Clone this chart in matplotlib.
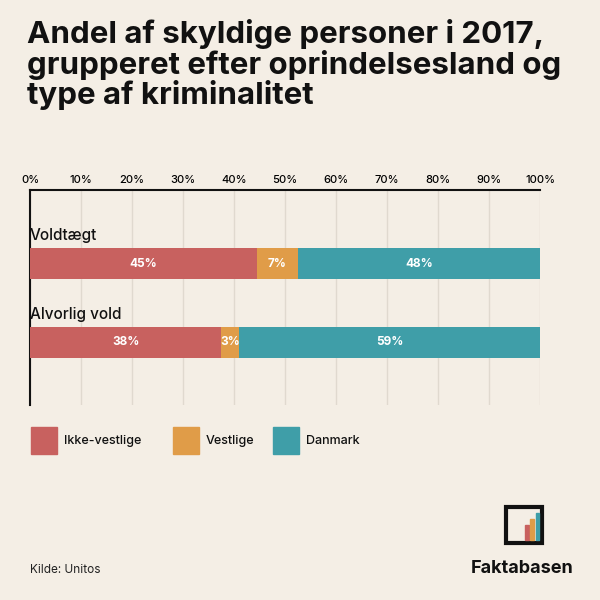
import matplotlib
matplotlib.use("Agg")
import matplotlib.pyplot as plt
from matplotlib.patches import Rectangle

plt.rcParams["font.family"] = "Inter"

categories = ["Voldtægt", "Alvorlig vold"]
series = ["Ikke-vestlige", "Vestlige", "Danmark"]
values = {
    "Ikke-vestlige": [44.5, 37.5],
    "Vestlige": [8, 3.5],
    "Danmark": [47.5, 59],
}
labels = {
    "Ikke-vestlige": ["45%", "38%"],
    "Vestlige": ["7%", "3%"],
    "Danmark": ["48%", "59%"],
}
ticks = [0, 10, 20, 30, 40, 50, 60, 70, 80, 90, 100]
colors = {"Ikke-vestlige": "#c8615f", "Vestlige": "#e09c48", "Danmark": "#3f9ea8"}

bg = "#f4eee5"
fig = plt.figure(figsize=(6, 6), dpi=100, facecolor=bg)
fig.text(0.045, 0.968, "Andel af skyldige personer i 2017,\ngrupperet efter oprindelsesland og\ntype af kriminalitet",
         fontsize=22.5, fontweight="bold", va="top", ha="left", linespacing=1.02, color="#111")

ax = fig.add_axes([0.05, 0.325, 0.85, 0.358])
ax.set_facecolor(bg)
ax.set_xlim(0, 100)
ax.set_ylim(215, 0)
ypos = [73.5, 152]
h = 31
for i, cat in enumerate(categories):
    left = 0
    for s in series:
        v = values[s][i]
        ax.barh(ypos[i], v, left=left, height=h, color=colors[s], zorder=3)
        ax.text(left + v / 2, ypos[i], labels[s][i], ha="center", va="center",
                color="white", fontsize=8.5, fontweight="bold", zorder=4)
        left += v
    ax.text(0, ypos[i] - h / 2 - 5, cat, ha="left", va="bottom", fontsize=11,
            fontweight="medium", color="#111")
ax.set_xticks(ticks)
ax.set_xticklabels([f"{t}%" for t in ticks], fontsize=8, fontweight="medium")
ax.xaxis.tick_top()
ax.tick_params(axis="x", length=0, pad=4)
ax.set_yticks([])
ax.grid(axis="x", color="#e0d9cf", lw=1, zorder=0)
for sp in ["right", "bottom"]:
    ax.spines[sp].set_visible(False)
ax.spines["top"].set_color("#111")
ax.spines["top"].set_linewidth(1.5)
ax.spines["left"].set_color("#111")
ax.spines["left"].set_linewidth(1.5)

lx = [0.052, 0.288, 0.455]
for x, s in zip(lx, series):
    fig.patches.append(Rectangle((x, 0.243), 0.043, 0.045, transform=fig.transFigure, color=colors[s]))
    fig.text(x + 0.055, 0.265, s, fontsize=9, va="center", fontweight="medium", color="#111")

fig.text(0.05, 0.045, "Kilde: Unitos", fontsize=8.5, color="#222")
fig.text(0.955, 0.045, "Faktabasen", fontsize=13, fontweight="bold", ha="right", color="#111")
fig.patches.append(Rectangle((0.843, 0.095), 0.06, 0.06, transform=fig.transFigure,
                             fill=False, ec="#111", lw=3))
fig.patches.append(Rectangle((0.875, 0.1), 0.006, 0.025, transform=fig.transFigure, color=colors["Ikke-vestlige"]))
fig.patches.append(Rectangle((0.884, 0.1), 0.006, 0.035, transform=fig.transFigure, color=colors["Vestlige"]))
fig.patches.append(Rectangle((0.893, 0.1), 0.006, 0.045, transform=fig.transFigure, color=colors["Danmark"]))

fig.savefig("out.png", dpi=100, facecolor=bg)
